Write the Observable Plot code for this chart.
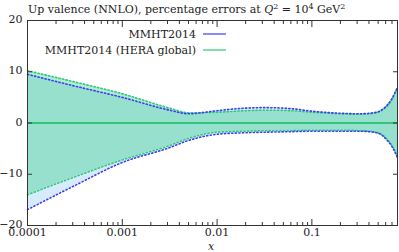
<!DOCTYPE html>
<html><head><meta charset="utf-8">
<script src="https://cdn.jsdelivr.net/npm/d3@7"></script>
<script src="https://cdn.jsdelivr.net/npm/@observablehq/plot@0.6"></script>
<style>body{margin:0;background:#fff} svg{display:block}</style>
</head><body><div id="chart"></div><script>
const xs        = [1e-4, 3.16e-4, 1e-3, 3.16e-3, 5e-3, 1e-2, 2e-2, 3.16e-2, 6e-2, 0.1, 0.2, 0.316, 0.45, 0.55, 0.63, 0.7, 0.8];
const blueUpper = [9.5, 7.2, 5.0, 2.5, 1.8, 2.4, 2.9, 3.0, 2.8, 2.3, 1.9, 1.8, 2.0, 2.6, 3.6, 4.8, 7.0];
const blueLower = [-16.9, -12.2, -7.7, -4.8, -3.4, -2.2, -1.9, -1.8, -1.7, -1.6, -1.6, -1.6, -1.8, -2.4, -3.5, -4.6, -6.8];
const greenUpper= [10.2, 8.0, 5.7, 2.9, 2.0, 2.1, 2.4, 2.5, 2.4, 2.1, 1.8, 1.7, 1.9, 2.5, 3.4, 4.6, 6.8];
const greenLower= [-14.0, -10.5, -7.2, -4.4, -3.0, -1.8, -1.6, -1.5, -1.5, -1.4, -1.4, -1.5, -1.7, -2.3, -3.3, -4.4, -6.5];
const seriesNames = ["MMHT2014", "MMHT2014 (HERA global)"];
const xMajor = [1e-4, 1e-3, 1e-2, 1e-1];
const xMajorLabels = ["0.0001", "0.001", "0.01", "0.1"];
const yTicks = [-20, -10, 0, 10, 20];
const xDomain = [1e-4, 0.8];
const yDomain = [-20, 20];

const rows = xs.map((x, i) => ({x, bu: blueUpper[i], bl: blueLower[i], gu: greenUpper[i], gl: greenLower[i]}));
const minor = [];
for (const d of [1e-4, 1e-3, 1e-2, 1e-1]) for (let k = 2; k <= 9; k++) { const v = k * d; if (v <= 0.8) minor.push(v); }

const BLUE = "#3c3cf5", GREEN = "#2ec878";
const curve = "monotone-x";
const font = "'DejaVu Serif', 'Liberation Serif', serif";

const chart = Plot.plot({
  width: 399, height: 252,
  marginLeft: 27, marginRight: 2, marginTop: 20, marginBottom: 27,
  style: {fontFamily: font, fontSize: "11px", background: "#fff", color: "#222"},
  x: {type: "log", domain: xDomain},
  y: {domain: yDomain},
  marks: [
    Plot.areaY(rows, {x: "x", y1: "bl", y2: "bu", fill: "#d6ebfb", curve}),
    Plot.areaY(rows, {x: "x", y1: "gl", y2: "gu", fill: "rgb(40,205,125)", fillOpacity: 0.36, curve}),
    Plot.lineY(rows, {x: "x", y: "gu", stroke: GREEN, strokeWidth: 1.6, strokeDasharray: "1.2,2.4", curve}),
    Plot.lineY(rows, {x: "x", y: "gl", stroke: GREEN, strokeWidth: 1.6, strokeDasharray: "1.2,2.4", curve}),
    Plot.lineY(rows, {x: "x", y: "bu", stroke: BLUE, strokeWidth: 1.6, strokeDasharray: "1.2,2.4", curve}),
    Plot.lineY(rows, {x: "x", y: "bl", stroke: BLUE, strokeWidth: 1.6, strokeDasharray: "1.2,2.4", curve}),
    Plot.ruleY([0], {stroke: GREEN, strokeWidth: 2}),
    Plot.frame({stroke: "#333"}),
    Plot.axisX(xMajor, {anchor: "bottom", tickSize: 0, tickPadding: 2, dy: 1, tickFormat: (d) => xMajorLabels[xMajor.indexOf(d)], label: null, fontSize: 11}),
    Plot.axisX(xMajor, {anchor: "bottom", tickSize: -6, tickFormat: () => "", label: null, stroke: "#333"}),
    Plot.axisX(minor, {anchor: "bottom", tickSize: -3, tickFormat: () => "", label: null, stroke: "#333"}),
    Plot.axisX(xMajor, {anchor: "top", tickSize: -6, tickFormat: () => "", label: null, stroke: "#333"}),
    Plot.axisX(minor, {anchor: "top", tickSize: -3, tickFormat: () => "", label: null, stroke: "#333"}),
    Plot.axisY(yTicks, {anchor: "left", tickSize: 0, tickPadding: 5, dy: -1, tickFormat: (d) => d < 0 ? "\u2212" + Math.abs(d) : String(d), label: null, fontSize: 11}),
    Plot.axisY(yTicks, {anchor: "left", tickSize: -5, tickFormat: () => "", label: null, stroke: "#333"}),
    Plot.axisY(yTicks, {anchor: "right", tickSize: -5, tickFormat: () => "", label: null, stroke: "#333"})
  ]
});
document.getElementById("chart").appendChild(chart);

// title, legend, x label
const svg = d3.select(chart);
const t = svg.append("text").attr("x", 28).attr("y", 13).attr("text-anchor", "start")
  .style("font-family", font).attr("font-size", 11).attr("fill", "#222");
t.append("tspan").text("Up valence (NNLO), percentage errors at ");
t.append("tspan").attr("font-style", "italic").text("Q");
t.append("tspan").attr("font-size", 8).attr("dy", -4).text("2");
t.append("tspan").attr("dy", 4).text(" = 10");
t.append("tspan").attr("font-size", 8).attr("dy", -4).text("4");
t.append("tspan").attr("dy", 4).text(" GeV");
t.append("tspan").attr("font-size", 8).attr("dy", -4).text("2");

const legendColors = [BLUE, GREEN];
seriesNames.forEach((name, i) => {
  const y = 34 + i * 16;
  svg.append("text").attr("x", 196).attr("y", y).attr("dy", "0.35em").attr("text-anchor", "end")
    .style("font-family", font).attr("font-size", 11).attr("fill", "#222").text(name);
  svg.append("line").attr("x1", 203).attr("x2", 226).attr("y1", y).attr("y2", y)
    .attr("stroke", legendColors[i]).attr("stroke-width", 1.2);
});
svg.append("text").attr("x", 211).attr("y", 250).attr("text-anchor", "middle").style("font-family", font)
  .attr("font-style", "italic").attr("font-size", 11).attr("fill", "#222").text("x");
</script></body></html>
